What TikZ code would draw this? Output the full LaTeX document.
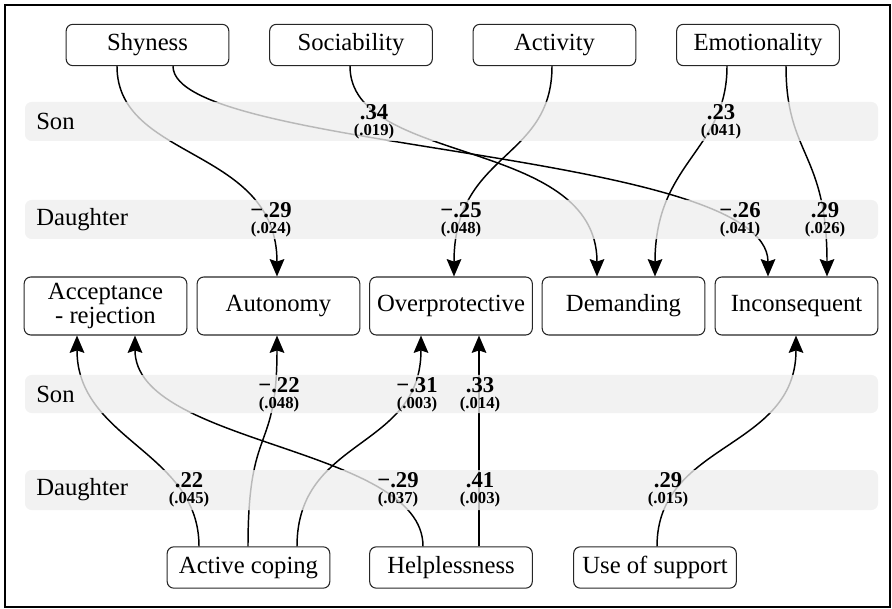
\documentclass[tikz,border=0pt]{standalone}
\usepackage{fontspec}
\setmainfont{Liberation Serif}
\usetikzlibrary{arrows.meta, calc}

\tikzset{
  box/.style={rectangle, rounded corners=5pt, draw=black!85, line width=0.8pt, minimum width=122pt, minimum height=31pt, inner sep=0pt, font=\fontsize{18.5}{20}\selectfont},
  midbox/.style={box, minimum height=43.5pt, align=center, font=\fontsize{18.5}{17.5}\selectfont},
  link/.style={line width=1.1pt, black},
  arr/.style={link, -{Stealth[length=13pt,width=11pt,inset=1.8pt]}},
  band/.style={fill={rgb,255:red,238;green,238;blue,238}, fill opacity=0.78, rounded corners=5pt},
  grp/.style={anchor=west, inner sep=0pt, font=\fontsize{18.5}{20}\selectfont},
  coef/.style={align=center, inner sep=0pt, font=\bfseries},
}

\begin{document}
\begin{tikzpicture}[x=0.75pt, y=-0.75pt]
    \useasboundingbox (0,0) rectangle (892,609);
    \draw[line width=1.5pt] (5,5) rectangle (890,607);

    % temperament
    \node at (147.5,45) [box] (shy) {Shyness};
    \node at (351,45)   [box] (soc) {Sociability};
    \node at (554.5,45) [box] (act) {Activity};
    \node at (758,45)   [box] (emo) {Emotionality};

    % parenting
    \node at (105.5,306) [midbox] (acc)    {Acceptance\\- rejection};
    \node at (278.5,306) [midbox] (auto)   {Autonomy};
    \node at (451,306)   [midbox] (over)   {Overprotective};
    \node at (623.5,306) [midbox] (dem)    {Demanding};
    \node at (796.5,306) [midbox] (incons) {Inconsequent};

    % coping
    \node at (248.5,567.5) [box] (cope) {Active coping};
    \node at (451,567.5)   [box] (help) {Helplessness};
    \node at (655,567.5)   [box] (supp) {Use of support};

    % paths from above
    \draw[arr] ($(shy.south)+(-30.5,0)$) .. controls +(0,95) and +(0,-130) .. ($(auto.north)+(-1.5,0)$);
    \draw[arr] ($(shy.south)+(25.5,0)$) .. controls +(0,85) and +(0,-127) .. ($(incons.north)+(-28.5,0)$);
    \draw[arr] ($(soc.south)+(-1,0)$) .. controls +(0,100) and +(0,-140) .. ($(dem.north)+(-26.5,0)$);
    \draw[arr] ($(act.south)+(-2.5,0)$) .. controls +(0,95) and +(0,-125) .. ($(over.north)+(3,0)$);
    \draw[arr] ($(emo.south)+(-31,0)$) .. controls +(0,85) and +(0,-115) .. ($(dem.north)+(31.5,0)$);
    \draw[arr] ($(emo.south)+(28,0)$) .. controls +(0,90) and +(0,-125) .. ($(incons.north)+(30.5,0)$);

    % paths from below
    \draw[arr] ($(cope.north)+(-49.5,0)$) .. controls +(0,-95) and +(0,105) .. ($(acc.south)+(-28.5,0)$);
    \draw[arr] ($(cope.north)+(-0.5,0)$) .. controls +(0,-125) and +(0,120) .. ($(auto.south)+(-1.5,0)$);
    \draw[arr] ($(cope.north)+(48.5,0)$) .. controls +(0,-110) and +(0,115) .. ($(over.south)+(-30,0)$);
    \draw[arr] ($(help.north)+(-28,0)$) .. controls +(0,-100) and +(0,110) .. ($(acc.south)+(29.5,0)$);
    \draw[arr] ($(help.north)+(28,0)$) -- ($(over.south)+(28,0)$);
    \draw[arr] ($(supp.north)+(2,0)$) .. controls +(0,-105) and +(0,115) .. ($(incons.south)+(-0.5,0)$);

    % bands
    \fill[band] (25,102) rectangle (878,141);
    \fill[band] (25,200) rectangle (878,239);
    \fill[band] (25,375) rectangle (878,413);
    \fill[band] (25,470) rectangle (878,510);
    \node at (36,121.5) [grp] (son1) {Son};
    \node at (36,219.5) [grp] (dau1) {Daughter};
    \node at (36,394)   [grp] (son2) {Son};
    \node at (36,490)   [grp] (dau2) {Daughter};

    % coefficients
    \node at (374,122) [coef] (c1) {\fontsize{17}{17}\selectfont .34\\\fontsize{12.5}{14.5}\selectfont (.019)};
    \node at (721,122) [coef] (c2) {\fontsize{17}{17}\selectfont .23\\\fontsize{12.5}{14.5}\selectfont (.041)};
    \node at (271,220) [coef] (c3) {\fontsize{17}{17}\selectfont −.29\\\fontsize{12.5}{14.5}\selectfont (.024)};
    \node at (461,220) [coef] (c4) {\fontsize{17}{17}\selectfont −.25\\\fontsize{12.5}{14.5}\selectfont (.048)};
    \node at (740,220) [coef] (c5) {\fontsize{17}{17}\selectfont −.26\\\fontsize{12.5}{14.5}\selectfont (.041)};
    \node at (825,220) [coef] (c6) {\fontsize{17}{17}\selectfont .29\\\fontsize{12.5}{14.5}\selectfont (.026)};
    \node at (279,395) [coef] (c7) {\fontsize{17}{17}\selectfont −.22\\\fontsize{12.5}{14.5}\selectfont (.048)};
    \node at (417,395) [coef] (c8) {\fontsize{17}{17}\selectfont −.31\\\fontsize{12.5}{14.5}\selectfont (.003)};
    \node at (480,395) [coef] (c9) {\fontsize{17}{17}\selectfont .33\\\fontsize{12.5}{14.5}\selectfont (.014)};
    \node at (189,490) [coef] (c10) {\fontsize{17}{17}\selectfont .22\\\fontsize{12.5}{14.5}\selectfont (.045)};
    \node at (398,490) [coef] (c11) {\fontsize{17}{17}\selectfont −.29\\\fontsize{12.5}{14.5}\selectfont (.037)};
    \node at (480,490) [coef] (c12) {\fontsize{17}{17}\selectfont .41\\\fontsize{12.5}{14.5}\selectfont (.003)};
    \node at (668,490) [coef] (c13) {\fontsize{17}{17}\selectfont .29\\\fontsize{12.5}{14.5}\selectfont (.015)};
\end{tikzpicture}
\end{document}
